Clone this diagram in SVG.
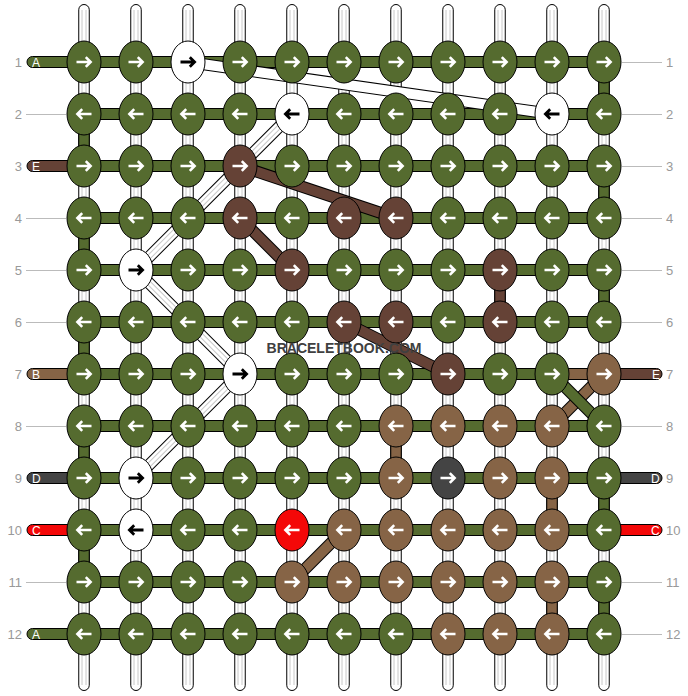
<svg xmlns="http://www.w3.org/2000/svg" width="688" height="696" viewBox="0 0 688 696">
<style>
.vs{fill:#fff;stroke:#000;stroke-width:1}
.k{stroke:#000;stroke-width:1}
.G{fill:#556b2f}.W{fill:#fff}.D{fill:#654236}.L{fill:#866446}.K{fill:#444}.R{fill:#f40808}
.band{stroke:#000;stroke-width:1}
.aw{fill:none;stroke:#fff;stroke-width:2.6}
.ab{fill:none;stroke:#000;stroke-width:2.8}
.num{font-family:"Liberation Sans",Arial,sans-serif;font-size:13px;fill:#999}
.lbl{font-family:"Liberation Sans",Arial,sans-serif;font-size:12px;fill:#fff}
.gl{stroke:#bbb;stroke-width:1}
.dO{stroke:#000;stroke-width:12;fill:none}
.wG{stroke:#c8c8c8;stroke-width:5}
.wW{stroke:#fff;stroke-width:3}
.wm{font-family:"Liberation Sans",Arial,sans-serif;font-weight:bold;font-size:15px;fill:#404040}
</style>
<defs>
<path id="ar" d="M-7.5,0H6.5M1.8,-4.8L6.6,0L1.8,4.8"/>
</defs>
<g id="labels">
<text class="num" x="22" y="66.5" text-anchor="end">1</text>
<text class="num" x="22" y="118.5" text-anchor="end">2</text>
<text class="num" x="22" y="170.5" text-anchor="end">3</text>
<text class="num" x="22" y="222.5" text-anchor="end">4</text>
<text class="num" x="22" y="274.5" text-anchor="end">5</text>
<text class="num" x="22" y="326.5" text-anchor="end">6</text>
<text class="num" x="22" y="378.5" text-anchor="end">7</text>
<text class="num" x="22" y="430.5" text-anchor="end">8</text>
<text class="num" x="22" y="482.5" text-anchor="end">9</text>
<text class="num" x="22" y="534.5" text-anchor="end">10</text>
<text class="num" x="22" y="586.5" text-anchor="end">11</text>
<text class="num" x="22" y="638.5" text-anchor="end">12</text>
<text class="num" x="666" y="66.5">1</text>
<text class="num" x="666" y="118.5">2</text>
<text class="num" x="666" y="170.5">3</text>
<text class="num" x="666" y="222.5">4</text>
<text class="num" x="666" y="274.5">5</text>
<text class="num" x="666" y="326.5">6</text>
<text class="num" x="666" y="378.5">7</text>
<text class="num" x="666" y="430.5">8</text>
<text class="num" x="666" y="482.5">9</text>
<text class="num" x="666" y="534.5">10</text>
<text class="num" x="666" y="586.5">11</text>
<text class="num" x="666" y="638.5">12</text>
<path class="gl" d="M26,114.5H66M26,218.5H66M26,270.5H66M26,322.5H66M26,426.5H66M26,582.5H66M622,62.5H662M622,114.5H662M622,166.5H662M622,218.5H662M622,270.5H662M622,322.5H662M622,426.5H662M622,582.5H662M622,634.5H662"/>
</g>
<g id="connectors">
<g id="vertical-strings">
<rect class="vs" x="78.75" y="4.5" width="10.5" height="686" rx="5.25"/>
<rect class="vs" x="130.75" y="4.5" width="10.5" height="686" rx="5.25"/>
<rect class="vs" x="182.75" y="4.5" width="10.5" height="686" rx="5.25"/>
<rect class="vs" x="234.75" y="4.5" width="10.5" height="686" rx="5.25"/>
<rect class="vs" x="286.75" y="4.5" width="10.5" height="686" rx="5.25"/>
<rect class="vs" x="338.75" y="4.5" width="10.5" height="686" rx="5.25"/>
<rect class="vs" x="390.75" y="4.5" width="10.5" height="686" rx="5.25"/>
<rect class="vs" x="442.75" y="4.5" width="10.5" height="686" rx="5.25"/>
<rect class="vs" x="494.75" y="4.5" width="10.5" height="686" rx="5.25"/>
<rect class="vs" x="546.75" y="4.5" width="10.5" height="686" rx="5.25"/>
<rect class="vs" x="598.75" y="4.5" width="10.5" height="686" rx="5.25"/>
<path stroke="#c8c8c8" stroke-width="1" d="M82,10V685M86,10V685M134,10V685M138,10V685M186,10V685M190,10V685M238,10V685M242,10V685M290,10V685M294,10V685M342,10V685M346,10V685M394,10V685M398,10V685M446,10V685M450,10V685M498,10V685M502,10V685M550,10V685M554,10V685M602,10V685M606,10V685"/>
</g>
<g id="vertical-links">
<rect class="band G" x="78.75" y="114" width="10.5" height="52"/>
<rect class="band G" x="78.75" y="218" width="10.5" height="52"/>
<rect class="band G" x="78.75" y="322" width="10.5" height="52"/>
<rect class="band G" x="78.75" y="426" width="10.5" height="52"/>
<rect class="band G" x="78.75" y="530" width="10.5" height="52"/>
<rect class="band G" x="598.75" y="62" width="10.5" height="52"/>
<rect class="band G" x="598.75" y="166" width="10.5" height="52"/>
<rect class="band G" x="598.75" y="270" width="10.5" height="52"/>
<rect class="band G" x="598.75" y="478" width="10.5" height="52"/>
<rect class="band G" x="598.75" y="582" width="10.5" height="52"/>
<rect class="band D" x="494.75" y="270" width="10.5" height="52"/>
<rect class="band L" x="390.75" y="426" width="10.5" height="52"/>
<rect class="band L" x="546.75" y="478" width="10.5" height="52"/>
<rect class="band L" x="546.75" y="582" width="10.5" height="52"/>
</g>
<g id="row-strings">
<rect class="band G" x="84" y="56.5" width="520" height="11"/>
<rect class="band G" x="84" y="108.5" width="520" height="11"/>
<rect class="band G" x="84" y="160.5" width="520" height="11"/>
<rect class="band G" x="84" y="212.5" width="520" height="11"/>
<rect class="band G" x="84" y="264.5" width="520" height="11"/>
<rect class="band G" x="84" y="316.5" width="520" height="11"/>
<rect class="band G" x="84" y="368.5" width="520" height="11"/>
<rect class="band L" x="552" y="368.5" width="52" height="11"/>
<rect class="band G" x="84" y="420.5" width="520" height="11"/>
<rect class="band G" x="84" y="472.5" width="520" height="11"/>
<rect class="band G" x="84" y="524.5" width="520" height="11"/>
<rect class="band G" x="84" y="576.5" width="520" height="11"/>
<rect class="band G" x="84" y="628.5" width="520" height="11"/>
</g>
<g id="end-strings">
<rect class="band G" x="27" y="56.5" width="60" height="11" rx="5.5"/>
<rect class="band D" x="27" y="160.5" width="60" height="11" rx="5.5"/>
<rect class="band L" x="27" y="368.5" width="60" height="11" rx="5.5"/>
<rect class="band K" x="27" y="472.5" width="60" height="11" rx="5.5"/>
<rect class="band R" x="27" y="524.5" width="60" height="11" rx="5.5"/>
<rect class="band G" x="27" y="628.5" width="60" height="11" rx="5.5"/>
<rect class="band D" x="600" y="368.5" width="62" height="11" rx="5.5"/>
<rect class="band K" x="600" y="472.5" width="62" height="11" rx="5.5"/>
<rect class="band R" x="600" y="524.5" width="62" height="11" rx="5.5"/>
<text class="lbl" x="32" y="66.5">A</text>
<text class="lbl" x="32" y="170.5">E</text>
<text class="lbl" x="32" y="378.5">B</text>
<text class="lbl" x="32" y="482.5">D</text>
<text class="lbl" x="32" y="534.5">C</text>
<text class="lbl" x="32" y="638.5">A</text>
<text class="lbl" x="652" y="378.5">E</text>
<text class="lbl" x="651" y="482.5">D</text>
<text class="lbl" x="651" y="534.5">C</text>
</g>
<g id="diagonals">
<line class="dO" x1="188" y1="62" x2="552" y2="114"/><line stroke="#fff" stroke-width="10" x1="188" y1="62" x2="552" y2="114"/>
<line class="dO" x1="292" y1="114" x2="136" y2="270"/><line stroke="#fff" stroke-width="10" x1="292" y1="114" x2="136" y2="270"/><line class="wG" x1="292" y1="114" x2="136" y2="270"/><line class="wW" x1="292" y1="114" x2="136" y2="270"/>
<line class="dO" x1="136" y1="270" x2="240" y2="374"/><line stroke="#fff" stroke-width="10" x1="136" y1="270" x2="240" y2="374"/><line class="wG" x1="136" y1="270" x2="240" y2="374"/><line class="wW" x1="136" y1="270" x2="240" y2="374"/>
<line class="dO" x1="240" y1="374" x2="136" y2="478"/><line stroke="#fff" stroke-width="10" x1="240" y1="374" x2="136" y2="478"/><line class="wG" x1="240" y1="374" x2="136" y2="478"/><line class="wW" x1="240" y1="374" x2="136" y2="478"/>
<line class="dO" x1="240" y1="166" x2="396" y2="218"/><line stroke="#654236" stroke-width="10" x1="240" y1="166" x2="396" y2="218"/>
<line class="dO" x1="240" y1="218" x2="292" y2="270"/><line stroke="#654236" stroke-width="10" x1="240" y1="218" x2="292" y2="270"/>
<line class="dO" x1="344" y1="322" x2="448" y2="374"/><line stroke="#654236" stroke-width="10" x1="344" y1="322" x2="448" y2="374"/>
<line class="dO" x1="604" y1="374" x2="552" y2="426"/><line stroke="#866446" stroke-width="10" x1="604" y1="374" x2="552" y2="426"/>
<line class="dO" x1="552" y1="374" x2="604" y2="426"/><line stroke="#556b2f" stroke-width="10" x1="552" y1="374" x2="604" y2="426"/>
<line class="dO" x1="344" y1="530" x2="292" y2="582"/><line stroke="#866446" stroke-width="10" x1="344" y1="530" x2="292" y2="582"/>
</g>
</g>
<g id="knots">
<g id="k1-1"><ellipse class="k G" cx="84" cy="62" rx="17" ry="21"/><use href="#ar" class="aw" transform="translate(84,62)"/></g>
<g id="k1-2"><ellipse class="k G" cx="136" cy="62" rx="17" ry="21"/><use href="#ar" class="aw" transform="translate(136,62)"/></g>
<g id="k1-3"><ellipse class="k W" cx="188" cy="62" rx="17" ry="21"/><use href="#ar" class="ab" transform="translate(188,62)"/></g>
<g id="k1-4"><ellipse class="k G" cx="240" cy="62" rx="17" ry="21"/><use href="#ar" class="aw" transform="translate(240,62)"/></g>
<g id="k1-5"><ellipse class="k G" cx="292" cy="62" rx="17" ry="21"/><use href="#ar" class="aw" transform="translate(292,62)"/></g>
<g id="k1-6"><ellipse class="k G" cx="344" cy="62" rx="17" ry="21"/><use href="#ar" class="aw" transform="translate(344,62)"/></g>
<g id="k1-7"><ellipse class="k G" cx="396" cy="62" rx="17" ry="21"/><use href="#ar" class="aw" transform="translate(396,62)"/></g>
<g id="k1-8"><ellipse class="k G" cx="448" cy="62" rx="17" ry="21"/><use href="#ar" class="aw" transform="translate(448,62)"/></g>
<g id="k1-9"><ellipse class="k G" cx="500" cy="62" rx="17" ry="21"/><use href="#ar" class="aw" transform="translate(500,62)"/></g>
<g id="k1-10"><ellipse class="k G" cx="552" cy="62" rx="17" ry="21"/><use href="#ar" class="aw" transform="translate(552,62)"/></g>
<g id="k1-11"><ellipse class="k G" cx="604" cy="62" rx="17" ry="21"/><use href="#ar" class="aw" transform="translate(604,62)"/></g>
<g id="k2-1"><ellipse class="k G" cx="84" cy="114" rx="17" ry="21"/><use href="#ar" class="aw" transform="translate(84,114) scale(-1,1)"/></g>
<g id="k2-2"><ellipse class="k G" cx="136" cy="114" rx="17" ry="21"/><use href="#ar" class="aw" transform="translate(136,114) scale(-1,1)"/></g>
<g id="k2-3"><ellipse class="k G" cx="188" cy="114" rx="17" ry="21"/><use href="#ar" class="aw" transform="translate(188,114) scale(-1,1)"/></g>
<g id="k2-4"><ellipse class="k G" cx="240" cy="114" rx="17" ry="21"/><use href="#ar" class="aw" transform="translate(240,114) scale(-1,1)"/></g>
<g id="k2-5"><ellipse class="k W" cx="292" cy="114" rx="17" ry="21"/><use href="#ar" class="ab" transform="translate(292,114) scale(-1,1)"/></g>
<g id="k2-6"><ellipse class="k G" cx="344" cy="114" rx="17" ry="21"/><use href="#ar" class="aw" transform="translate(344,114) scale(-1,1)"/></g>
<g id="k2-7"><ellipse class="k G" cx="396" cy="114" rx="17" ry="21"/><use href="#ar" class="aw" transform="translate(396,114) scale(-1,1)"/></g>
<g id="k2-8"><ellipse class="k G" cx="448" cy="114" rx="17" ry="21"/><use href="#ar" class="aw" transform="translate(448,114) scale(-1,1)"/></g>
<g id="k2-9"><ellipse class="k G" cx="500" cy="114" rx="17" ry="21"/><use href="#ar" class="aw" transform="translate(500,114) scale(-1,1)"/></g>
<g id="k2-10"><ellipse class="k W" cx="552" cy="114" rx="17" ry="21"/><use href="#ar" class="ab" transform="translate(552,114) scale(-1,1)"/></g>
<g id="k2-11"><ellipse class="k G" cx="604" cy="114" rx="17" ry="21"/><use href="#ar" class="aw" transform="translate(604,114) scale(-1,1)"/></g>
<g id="k3-1"><ellipse class="k G" cx="84" cy="166" rx="17" ry="21"/><use href="#ar" class="aw" transform="translate(84,166)"/></g>
<g id="k3-2"><ellipse class="k G" cx="136" cy="166" rx="17" ry="21"/><use href="#ar" class="aw" transform="translate(136,166)"/></g>
<g id="k3-3"><ellipse class="k G" cx="188" cy="166" rx="17" ry="21"/><use href="#ar" class="aw" transform="translate(188,166)"/></g>
<g id="k3-4"><ellipse class="k D" cx="240" cy="166" rx="17" ry="21"/><use href="#ar" class="aw" transform="translate(240,166)"/></g>
<g id="k3-5"><ellipse class="k G" cx="292" cy="166" rx="17" ry="21"/><use href="#ar" class="aw" transform="translate(292,166)"/></g>
<g id="k3-6"><ellipse class="k G" cx="344" cy="166" rx="17" ry="21"/><use href="#ar" class="aw" transform="translate(344,166)"/></g>
<g id="k3-7"><ellipse class="k G" cx="396" cy="166" rx="17" ry="21"/><use href="#ar" class="aw" transform="translate(396,166)"/></g>
<g id="k3-8"><ellipse class="k G" cx="448" cy="166" rx="17" ry="21"/><use href="#ar" class="aw" transform="translate(448,166)"/></g>
<g id="k3-9"><ellipse class="k G" cx="500" cy="166" rx="17" ry="21"/><use href="#ar" class="aw" transform="translate(500,166)"/></g>
<g id="k3-10"><ellipse class="k G" cx="552" cy="166" rx="17" ry="21"/><use href="#ar" class="aw" transform="translate(552,166)"/></g>
<g id="k3-11"><ellipse class="k G" cx="604" cy="166" rx="17" ry="21"/><use href="#ar" class="aw" transform="translate(604,166)"/></g>
<g id="k4-1"><ellipse class="k G" cx="84" cy="218" rx="17" ry="21"/><use href="#ar" class="aw" transform="translate(84,218) scale(-1,1)"/></g>
<g id="k4-2"><ellipse class="k G" cx="136" cy="218" rx="17" ry="21"/><use href="#ar" class="aw" transform="translate(136,218) scale(-1,1)"/></g>
<g id="k4-3"><ellipse class="k G" cx="188" cy="218" rx="17" ry="21"/><use href="#ar" class="aw" transform="translate(188,218) scale(-1,1)"/></g>
<g id="k4-4"><ellipse class="k D" cx="240" cy="218" rx="17" ry="21"/><use href="#ar" class="aw" transform="translate(240,218) scale(-1,1)"/></g>
<g id="k4-5"><ellipse class="k G" cx="292" cy="218" rx="17" ry="21"/><use href="#ar" class="aw" transform="translate(292,218) scale(-1,1)"/></g>
<g id="k4-6"><ellipse class="k D" cx="344" cy="218" rx="17" ry="21"/><use href="#ar" class="aw" transform="translate(344,218) scale(-1,1)"/></g>
<g id="k4-7"><ellipse class="k D" cx="396" cy="218" rx="17" ry="21"/><use href="#ar" class="aw" transform="translate(396,218) scale(-1,1)"/></g>
<g id="k4-8"><ellipse class="k G" cx="448" cy="218" rx="17" ry="21"/><use href="#ar" class="aw" transform="translate(448,218) scale(-1,1)"/></g>
<g id="k4-9"><ellipse class="k G" cx="500" cy="218" rx="17" ry="21"/><use href="#ar" class="aw" transform="translate(500,218) scale(-1,1)"/></g>
<g id="k4-10"><ellipse class="k G" cx="552" cy="218" rx="17" ry="21"/><use href="#ar" class="aw" transform="translate(552,218) scale(-1,1)"/></g>
<g id="k4-11"><ellipse class="k G" cx="604" cy="218" rx="17" ry="21"/><use href="#ar" class="aw" transform="translate(604,218) scale(-1,1)"/></g>
<g id="k5-1"><ellipse class="k G" cx="84" cy="270" rx="17" ry="21"/><use href="#ar" class="aw" transform="translate(84,270)"/></g>
<g id="k5-2"><ellipse class="k W" cx="136" cy="270" rx="17" ry="21"/><use href="#ar" class="ab" transform="translate(136,270)"/></g>
<g id="k5-3"><ellipse class="k G" cx="188" cy="270" rx="17" ry="21"/><use href="#ar" class="aw" transform="translate(188,270)"/></g>
<g id="k5-4"><ellipse class="k G" cx="240" cy="270" rx="17" ry="21"/><use href="#ar" class="aw" transform="translate(240,270)"/></g>
<g id="k5-5"><ellipse class="k D" cx="292" cy="270" rx="17" ry="21"/><use href="#ar" class="aw" transform="translate(292,270)"/></g>
<g id="k5-6"><ellipse class="k G" cx="344" cy="270" rx="17" ry="21"/><use href="#ar" class="aw" transform="translate(344,270)"/></g>
<g id="k5-7"><ellipse class="k G" cx="396" cy="270" rx="17" ry="21"/><use href="#ar" class="aw" transform="translate(396,270)"/></g>
<g id="k5-8"><ellipse class="k G" cx="448" cy="270" rx="17" ry="21"/><use href="#ar" class="aw" transform="translate(448,270)"/></g>
<g id="k5-9"><ellipse class="k D" cx="500" cy="270" rx="17" ry="21"/><use href="#ar" class="aw" transform="translate(500,270)"/></g>
<g id="k5-10"><ellipse class="k G" cx="552" cy="270" rx="17" ry="21"/><use href="#ar" class="aw" transform="translate(552,270)"/></g>
<g id="k5-11"><ellipse class="k G" cx="604" cy="270" rx="17" ry="21"/><use href="#ar" class="aw" transform="translate(604,270)"/></g>
<g id="k6-1"><ellipse class="k G" cx="84" cy="322" rx="17" ry="21"/><use href="#ar" class="aw" transform="translate(84,322) scale(-1,1)"/></g>
<g id="k6-2"><ellipse class="k G" cx="136" cy="322" rx="17" ry="21"/><use href="#ar" class="aw" transform="translate(136,322) scale(-1,1)"/></g>
<g id="k6-3"><ellipse class="k G" cx="188" cy="322" rx="17" ry="21"/><use href="#ar" class="aw" transform="translate(188,322) scale(-1,1)"/></g>
<g id="k6-4"><ellipse class="k G" cx="240" cy="322" rx="17" ry="21"/><use href="#ar" class="aw" transform="translate(240,322) scale(-1,1)"/></g>
<g id="k6-5"><ellipse class="k G" cx="292" cy="322" rx="17" ry="21"/><use href="#ar" class="aw" transform="translate(292,322) scale(-1,1)"/></g>
<g id="k6-6"><ellipse class="k D" cx="344" cy="322" rx="17" ry="21"/><use href="#ar" class="aw" transform="translate(344,322) scale(-1,1)"/></g>
<g id="k6-7"><ellipse class="k D" cx="396" cy="322" rx="17" ry="21"/><use href="#ar" class="aw" transform="translate(396,322) scale(-1,1)"/></g>
<g id="k6-8"><ellipse class="k G" cx="448" cy="322" rx="17" ry="21"/><use href="#ar" class="aw" transform="translate(448,322) scale(-1,1)"/></g>
<g id="k6-9"><ellipse class="k D" cx="500" cy="322" rx="17" ry="21"/><use href="#ar" class="aw" transform="translate(500,322) scale(-1,1)"/></g>
<g id="k6-10"><ellipse class="k G" cx="552" cy="322" rx="17" ry="21"/><use href="#ar" class="aw" transform="translate(552,322) scale(-1,1)"/></g>
<g id="k6-11"><ellipse class="k G" cx="604" cy="322" rx="17" ry="21"/><use href="#ar" class="aw" transform="translate(604,322) scale(-1,1)"/></g>
<g id="k7-1"><ellipse class="k G" cx="84" cy="374" rx="17" ry="21"/><use href="#ar" class="aw" transform="translate(84,374)"/></g>
<g id="k7-2"><ellipse class="k G" cx="136" cy="374" rx="17" ry="21"/><use href="#ar" class="aw" transform="translate(136,374)"/></g>
<g id="k7-3"><ellipse class="k G" cx="188" cy="374" rx="17" ry="21"/><use href="#ar" class="aw" transform="translate(188,374)"/></g>
<g id="k7-4"><ellipse class="k W" cx="240" cy="374" rx="17" ry="21"/><use href="#ar" class="ab" transform="translate(240,374)"/></g>
<g id="k7-5"><ellipse class="k G" cx="292" cy="374" rx="17" ry="21"/><use href="#ar" class="aw" transform="translate(292,374)"/></g>
<g id="k7-6"><ellipse class="k G" cx="344" cy="374" rx="17" ry="21"/><use href="#ar" class="aw" transform="translate(344,374)"/></g>
<g id="k7-7"><ellipse class="k G" cx="396" cy="374" rx="17" ry="21"/><use href="#ar" class="aw" transform="translate(396,374)"/></g>
<g id="k7-8"><ellipse class="k D" cx="448" cy="374" rx="17" ry="21"/><use href="#ar" class="aw" transform="translate(448,374)"/></g>
<g id="k7-9"><ellipse class="k G" cx="500" cy="374" rx="17" ry="21"/><use href="#ar" class="aw" transform="translate(500,374)"/></g>
<g id="k7-10"><ellipse class="k G" cx="552" cy="374" rx="17" ry="21"/><use href="#ar" class="aw" transform="translate(552,374)"/></g>
<g id="k7-11"><ellipse class="k L" cx="604" cy="374" rx="17" ry="21"/><use href="#ar" class="aw" transform="translate(604,374)"/></g>
<g id="k8-1"><ellipse class="k G" cx="84" cy="426" rx="17" ry="21"/><use href="#ar" class="aw" transform="translate(84,426) scale(-1,1)"/></g>
<g id="k8-2"><ellipse class="k G" cx="136" cy="426" rx="17" ry="21"/><use href="#ar" class="aw" transform="translate(136,426) scale(-1,1)"/></g>
<g id="k8-3"><ellipse class="k G" cx="188" cy="426" rx="17" ry="21"/><use href="#ar" class="aw" transform="translate(188,426) scale(-1,1)"/></g>
<g id="k8-4"><ellipse class="k G" cx="240" cy="426" rx="17" ry="21"/><use href="#ar" class="aw" transform="translate(240,426) scale(-1,1)"/></g>
<g id="k8-5"><ellipse class="k G" cx="292" cy="426" rx="17" ry="21"/><use href="#ar" class="aw" transform="translate(292,426) scale(-1,1)"/></g>
<g id="k8-6"><ellipse class="k G" cx="344" cy="426" rx="17" ry="21"/><use href="#ar" class="aw" transform="translate(344,426) scale(-1,1)"/></g>
<g id="k8-7"><ellipse class="k L" cx="396" cy="426" rx="17" ry="21"/><use href="#ar" class="aw" transform="translate(396,426) scale(-1,1)"/></g>
<g id="k8-8"><ellipse class="k L" cx="448" cy="426" rx="17" ry="21"/><use href="#ar" class="aw" transform="translate(448,426) scale(-1,1)"/></g>
<g id="k8-9"><ellipse class="k L" cx="500" cy="426" rx="17" ry="21"/><use href="#ar" class="aw" transform="translate(500,426) scale(-1,1)"/></g>
<g id="k8-10"><ellipse class="k L" cx="552" cy="426" rx="17" ry="21"/><use href="#ar" class="aw" transform="translate(552,426) scale(-1,1)"/></g>
<g id="k8-11"><ellipse class="k G" cx="604" cy="426" rx="17" ry="21"/><use href="#ar" class="aw" transform="translate(604,426) scale(-1,1)"/></g>
<g id="k9-1"><ellipse class="k G" cx="84" cy="478" rx="17" ry="21"/><use href="#ar" class="aw" transform="translate(84,478)"/></g>
<g id="k9-2"><ellipse class="k W" cx="136" cy="478" rx="17" ry="21"/><use href="#ar" class="ab" transform="translate(136,478)"/></g>
<g id="k9-3"><ellipse class="k G" cx="188" cy="478" rx="17" ry="21"/><use href="#ar" class="aw" transform="translate(188,478)"/></g>
<g id="k9-4"><ellipse class="k G" cx="240" cy="478" rx="17" ry="21"/><use href="#ar" class="aw" transform="translate(240,478)"/></g>
<g id="k9-5"><ellipse class="k G" cx="292" cy="478" rx="17" ry="21"/><use href="#ar" class="aw" transform="translate(292,478)"/></g>
<g id="k9-6"><ellipse class="k G" cx="344" cy="478" rx="17" ry="21"/><use href="#ar" class="aw" transform="translate(344,478)"/></g>
<g id="k9-7"><ellipse class="k L" cx="396" cy="478" rx="17" ry="21"/><use href="#ar" class="aw" transform="translate(396,478)"/></g>
<g id="k9-8"><ellipse class="k K" cx="448" cy="478" rx="17" ry="21"/><use href="#ar" class="aw" transform="translate(448,478)"/></g>
<g id="k9-9"><ellipse class="k L" cx="500" cy="478" rx="17" ry="21"/><use href="#ar" class="aw" transform="translate(500,478)"/></g>
<g id="k9-10"><ellipse class="k L" cx="552" cy="478" rx="17" ry="21"/><use href="#ar" class="aw" transform="translate(552,478)"/></g>
<g id="k9-11"><ellipse class="k G" cx="604" cy="478" rx="17" ry="21"/><use href="#ar" class="aw" transform="translate(604,478)"/></g>
<g id="k10-1"><ellipse class="k G" cx="84" cy="530" rx="17" ry="21"/><use href="#ar" class="aw" transform="translate(84,530) scale(-1,1)"/></g>
<g id="k10-2"><ellipse class="k W" cx="136" cy="530" rx="17" ry="21"/><use href="#ar" class="ab" transform="translate(136,530) scale(-1,1)"/></g>
<g id="k10-3"><ellipse class="k G" cx="188" cy="530" rx="17" ry="21"/><use href="#ar" class="aw" transform="translate(188,530) scale(-1,1)"/></g>
<g id="k10-4"><ellipse class="k G" cx="240" cy="530" rx="17" ry="21"/><use href="#ar" class="aw" transform="translate(240,530) scale(-1,1)"/></g>
<g id="k10-5"><ellipse class="k R" cx="292" cy="530" rx="17" ry="21"/><use href="#ar" class="aw" transform="translate(292,530) scale(-1,1)"/></g>
<g id="k10-6"><ellipse class="k L" cx="344" cy="530" rx="17" ry="21"/><use href="#ar" class="aw" transform="translate(344,530) scale(-1,1)"/></g>
<g id="k10-7"><ellipse class="k L" cx="396" cy="530" rx="17" ry="21"/><use href="#ar" class="aw" transform="translate(396,530) scale(-1,1)"/></g>
<g id="k10-8"><ellipse class="k L" cx="448" cy="530" rx="17" ry="21"/><use href="#ar" class="aw" transform="translate(448,530) scale(-1,1)"/></g>
<g id="k10-9"><ellipse class="k L" cx="500" cy="530" rx="17" ry="21"/><use href="#ar" class="aw" transform="translate(500,530) scale(-1,1)"/></g>
<g id="k10-10"><ellipse class="k L" cx="552" cy="530" rx="17" ry="21"/><use href="#ar" class="aw" transform="translate(552,530) scale(-1,1)"/></g>
<g id="k10-11"><ellipse class="k G" cx="604" cy="530" rx="17" ry="21"/><use href="#ar" class="aw" transform="translate(604,530) scale(-1,1)"/></g>
<g id="k11-1"><ellipse class="k G" cx="84" cy="582" rx="17" ry="21"/><use href="#ar" class="aw" transform="translate(84,582)"/></g>
<g id="k11-2"><ellipse class="k G" cx="136" cy="582" rx="17" ry="21"/><use href="#ar" class="aw" transform="translate(136,582)"/></g>
<g id="k11-3"><ellipse class="k G" cx="188" cy="582" rx="17" ry="21"/><use href="#ar" class="aw" transform="translate(188,582)"/></g>
<g id="k11-4"><ellipse class="k G" cx="240" cy="582" rx="17" ry="21"/><use href="#ar" class="aw" transform="translate(240,582)"/></g>
<g id="k11-5"><ellipse class="k L" cx="292" cy="582" rx="17" ry="21"/><use href="#ar" class="aw" transform="translate(292,582)"/></g>
<g id="k11-6"><ellipse class="k L" cx="344" cy="582" rx="17" ry="21"/><use href="#ar" class="aw" transform="translate(344,582)"/></g>
<g id="k11-7"><ellipse class="k L" cx="396" cy="582" rx="17" ry="21"/><use href="#ar" class="aw" transform="translate(396,582)"/></g>
<g id="k11-8"><ellipse class="k L" cx="448" cy="582" rx="17" ry="21"/><use href="#ar" class="aw" transform="translate(448,582)"/></g>
<g id="k11-9"><ellipse class="k L" cx="500" cy="582" rx="17" ry="21"/><use href="#ar" class="aw" transform="translate(500,582)"/></g>
<g id="k11-10"><ellipse class="k L" cx="552" cy="582" rx="17" ry="21"/><use href="#ar" class="aw" transform="translate(552,582)"/></g>
<g id="k11-11"><ellipse class="k G" cx="604" cy="582" rx="17" ry="21"/><use href="#ar" class="aw" transform="translate(604,582)"/></g>
<g id="k12-1"><ellipse class="k G" cx="84" cy="634" rx="17" ry="21"/><use href="#ar" class="aw" transform="translate(84,634) scale(-1,1)"/></g>
<g id="k12-2"><ellipse class="k G" cx="136" cy="634" rx="17" ry="21"/><use href="#ar" class="aw" transform="translate(136,634) scale(-1,1)"/></g>
<g id="k12-3"><ellipse class="k G" cx="188" cy="634" rx="17" ry="21"/><use href="#ar" class="aw" transform="translate(188,634) scale(-1,1)"/></g>
<g id="k12-4"><ellipse class="k G" cx="240" cy="634" rx="17" ry="21"/><use href="#ar" class="aw" transform="translate(240,634) scale(-1,1)"/></g>
<g id="k12-5"><ellipse class="k G" cx="292" cy="634" rx="17" ry="21"/><use href="#ar" class="aw" transform="translate(292,634) scale(-1,1)"/></g>
<g id="k12-6"><ellipse class="k G" cx="344" cy="634" rx="17" ry="21"/><use href="#ar" class="aw" transform="translate(344,634) scale(-1,1)"/></g>
<g id="k12-7"><ellipse class="k G" cx="396" cy="634" rx="17" ry="21"/><use href="#ar" class="aw" transform="translate(396,634) scale(-1,1)"/></g>
<g id="k12-8"><ellipse class="k L" cx="448" cy="634" rx="17" ry="21"/><use href="#ar" class="aw" transform="translate(448,634) scale(-1,1)"/></g>
<g id="k12-9"><ellipse class="k L" cx="500" cy="634" rx="17" ry="21"/><use href="#ar" class="aw" transform="translate(500,634) scale(-1,1)"/></g>
<g id="k12-10"><ellipse class="k L" cx="552" cy="634" rx="17" ry="21"/><use href="#ar" class="aw" transform="translate(552,634) scale(-1,1)"/></g>
<g id="k12-11"><ellipse class="k G" cx="604" cy="634" rx="17" ry="21"/><use href="#ar" class="aw" transform="translate(604,634) scale(-1,1)"/></g>
</g>
<text class="wm" x="344" y="353" text-anchor="middle" textLength="155" lengthAdjust="spacingAndGlyphs">BRACELETBOOK.COM</text>
</svg>
